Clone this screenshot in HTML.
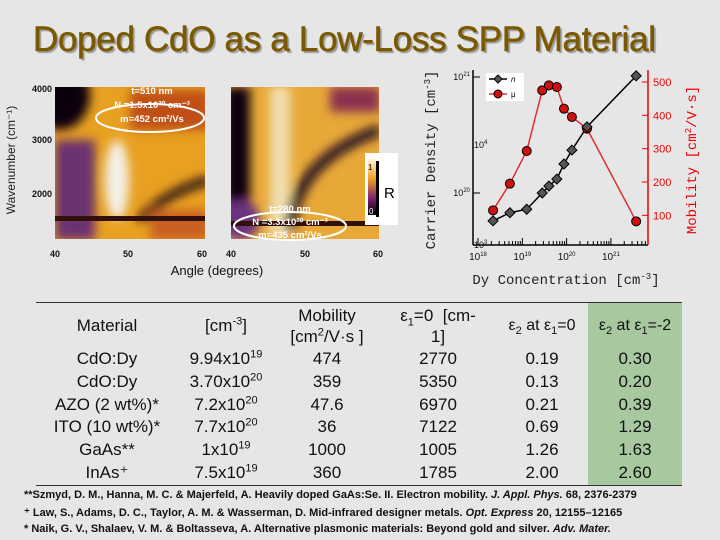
<!DOCTYPE html>
<html><head><meta charset="utf-8"><style>
body{margin:0;width:720px;height:540px;background:#e6e6e6;position:relative;overflow:hidden;font-family:"Liberation Sans",sans-serif}
.a{position:absolute}
.t td{padding:0;text-align:center;font-size:17px;color:#111;height:22.8px;line-height:22.8px;white-space:nowrap}
.t sup,.t sub{line-height:0;font-size:11px}
.fn{font-size:11px;font-weight:bold;white-space:nowrap;color:#111}
</style></head><body>
<div class="a" style="left:33px;top:20px;font-size:35px;color:#7a5900;text-shadow:2px 2px 1px #9a9a9a;letter-spacing:-0.3px;white-space:nowrap;-webkit-text-stroke:0.6px #7a5900">Doped CdO as a Low-Loss SPP Material</div>

<svg class="a" style="left:0;top:60px" width="410" height="230">
<defs>
<filter id="bl"><feGaussianBlur stdDeviation="5"/></filter>
<clipPath id="c1"><rect x="55" y="27" width="150" height="152"/></clipPath>
<clipPath id="c2"><rect x="231" y="27" width="148" height="152"/></clipPath>
</defs>
<g clip-path="url(#c1)">
<rect x="55" y="27" width="150" height="152" fill="#e8a020"/>
<g filter="url(#bl)">
<rect x="55" y="80" width="40" height="100" fill="#6a3070"/>
<ellipse cx="60" cy="35" rx="30" ry="35" fill="#100010"/>
<rect x="130" y="30" width="80" height="40" fill="#c05018"/>
<ellipse cx="117" cy="120" rx="12" ry="40" fill="#f4f0e8"/>
<path d="M140 160 Q170 130 210 120" stroke="#200818" stroke-width="9" fill="none"/>
<rect x="150" y="150" width="60" height="30" fill="#c86020"/>
</g>
<rect x="55" y="156" width="150" height="5" fill="#301008"/>
</g>
<g clip-path="url(#c2)">
<rect x="231" y="27" width="148" height="152" fill="#e8a838"/>
<g filter="url(#bl)">
<rect x="225" y="27" width="25" height="150" fill="#0a0008"/>
<rect x="270" y="27" width="20" height="150" fill="#f0e0b0"/>
<path d="M290 170 Q295 100 380 70" stroke="#200820" stroke-width="11" fill="none"/>
<rect x="330" y="27" width="50" height="25" fill="#8a3050"/>
<ellipse cx="240" cy="160" rx="20" ry="20" fill="#6a3080"/>
</g>
<rect x="231" y="161" width="148" height="5" fill="#301008"/>
</g>
<rect x="365" y="93" width="33" height="72" fill="#fff"/>
<defs><linearGradient id="cb" x1="0" y1="0" x2="0" y2="1"><stop offset="0" stop-color="#fff8e0"/><stop offset=".35" stop-color="#f0a020"/><stop offset=".7" stop-color="#802070"/><stop offset="1" stop-color="#000"/></linearGradient></defs>
<rect x="368" y="99" width="8" height="56" fill="url(#cb)"/>
<rect x="376" y="101" width="3" height="56" fill="#000"/>
<text x="368" y="110" font-size="8" fill="#000">1</text><text x="369" y="154" font-size="8" fill="#fff">0</text>
<text x="384" y="138" font-size="15" fill="#000">R</text>
<g font-size="9" font-weight="bold" fill="#111" text-anchor="end">
<text x="52" y="32">4000</text><text x="52" y="83">3000</text><text x="52" y="137">2000</text></g>
<text transform="translate(15 100) rotate(-90)" text-anchor="middle" font-size="12" fill="#222">Wavenumber (cm⁻¹)</text>
<g font-size="9" font-weight="bold" fill="#111" text-anchor="middle">
<text x="55" y="197">40</text><text x="128" y="197">50</text><text x="202" y="197">60</text>
<text x="231" y="197">40</text><text x="305" y="197">50</text><text x="378" y="197">60</text></g>
<text x="217" y="215" text-anchor="middle" font-size="13" fill="#111">Angle (degrees)</text>
<g fill="#fff" font-size="9.5" font-weight="bold" text-anchor="middle">
<text x="152" y="34">t=510 nm</text><text x="152" y="48">N =1.5x10²⁰ cm⁻³</text><text x="152" y="62">m=452 cm²/Vs</text>
<ellipse cx="150" cy="58" rx="54" ry="14" fill="none" stroke="#fff" stroke-width="2"/>
<text x="290" y="152">t=280 nm</text><text x="290" y="165">N =3.3x10²⁰ cm⁻³</text><text x="290" y="178">m=435 cm²/Vs</text>
<ellipse cx="290" cy="166" rx="56" ry="14" fill="none" stroke="#fff" stroke-width="2"/>
</g>
</svg>

<svg class="a" id="ch" style="left:410px;top:60px" width="310" height="240"></svg>

<div class="a" style="left:36px;top:302px;width:646px;border-top:1px solid #333"></div>
<div class="a" style="left:588px;top:303px;width:94px;height:182px;background:#a8c8a0"></div>
<div class="a" style="left:36px;top:485px;width:646px;border-top:1px solid #333"></div>
<table class="a t" style="left:36px;top:304px;border-collapse:collapse;width:646px;table-layout:fixed">
<colgroup><col style="width:142px"><col style="width:96px"><col style="width:106px"><col style="width:116px"><col style="width:92px"><col style="width:94px"></colgroup>
<tr><td style="height:44px;line-height:20px">Material</td><td>[cm<sup>-3</sup>]</td><td style="line-height:21px">Mobility<br>[cm<sup>2</sup>/V·s ]</td><td style="line-height:21px">ε<sub>1</sub>=0 &nbsp;[cm-<br>1]</td><td style="font-size:16px">ε<sub>2</sub> at ε<sub>1</sub>=0</td><td style="font-size:16px">ε<sub>2</sub> at ε<sub>1</sub>=-2</td></tr>
<tr><td>CdO:Dy</td><td>9.94x10<sup>19</sup></td><td>474</td><td>2770</td><td>0.19</td><td>0.30</td></tr>
<tr><td>CdO:Dy</td><td>3.70x10<sup>20</sup></td><td>359</td><td>5350</td><td>0.13</td><td>0.20</td></tr>
<tr><td>AZO (2 wt%)*</td><td>7.2x10<sup>20</sup></td><td>47.6</td><td>6970</td><td>0.21</td><td>0.39</td></tr>
<tr><td>ITO (10 wt%)*</td><td>7.7x10<sup>20</sup></td><td>36</td><td>7122</td><td>0.69</td><td>1.29</td></tr>
<tr><td>GaAs**</td><td>1x10<sup>19</sup></td><td>1000</td><td>1005</td><td>1.26</td><td>1.63</td></tr>
<tr><td>InAs⁺</td><td>7.5x10<sup>19</sup></td><td>360</td><td>1785</td><td>2.00</td><td>2.60</td></tr>
</table>
<div class="a fn" style="left:24px;top:489px">**Szmyd, D. M., Hanna, M. C. &amp; Majerfeld, A. Heavily doped GaAs:Se. II. Electron mobility. <i>J. Appl. Phys.</i> 68, 2376-2379</div>
<div class="a fn" style="left:24px;top:506px">⁺ Law, S., Adams, D. C., Taylor, A. M. &amp; Wasserman, D. Mid-infrared designer metals. <i>Opt. Express</i> 20, 12155–12165</div>
<div class="a fn" style="left:24px;top:523px">* Naik, G. V., Shalaev, V. M. &amp; Boltasseva, A. Alternative plasmonic materials: Beyond gold and silver. <i>Adv. Mater.</i></div>

<script>
const concLog=[18.34,18.72,19.1,19.45,19.6,19.78,19.94,20.12,20.46,21.57];
const nLog=[19.76,19.83,19.86,20.0,20.06,20.12,20.25,20.37,20.57,21.01];
const mobility=[115,195,293,475,490,485,420,395,360,82];
const xTicks=[18,19,20,21];
const mobTicks=[100,200,300,400,500];
const NS="http://www.w3.org/2000/svg";
const svg=document.getElementById('ch');
const X=v=>68+(v-18)*44.3;
const Y=v=>17+(21-v)*116;
const Ym=v=>22+(500-v)*0.3333;
function mk(t,a,p){const e=document.createElementNS(NS,t);for(const k in a)e.setAttribute(k,a[k]);(p||svg).appendChild(e);return e;}
const ax=mk('g',{});


mk('line',{x1:63,y1:185,x2:238,y2:185,stroke:'#000','stroke-width':1.5},ax);
mk('line',{x1:63,y1:10,x2:63,y2:185,stroke:'#000','stroke-width':1.5},ax);
mk('line',{x1:238,y1:10,x2:238,y2:185,stroke:'#e00','stroke-width':1.5},ax);
xTicks.forEach(d=>{for(let m=1;m<10;m++){const x=X(d+Math.log10(m));if(x<63||x>238)continue;mk('line',{x1:x,y1:185,x2:x,y2:m==1?178:181,stroke:'#000'},ax);}
 const t=mk('text',{x:X(d),y:200,'font-size':10,'text-anchor':'middle',fill:'#111'},ax);t.innerHTML='10<tspan font-size="6" dy="-4">'+d+'</tspan>';});
[20,21].forEach(d=>{mk('line',{x1:63,y1:Y(d),x2:70,y2:Y(d),stroke:'#000'},ax);const t=mk('text',{x:60,y:Y(d)+3,'font-size':9,'text-anchor':'end',fill:'#111'},ax);t.innerHTML='10<tspan font-size="6" dy="-4">'+d+'</tspan>';});
[[3,188],[4,88]].forEach(p=>{const t=mk('text',{x:64,y:p[1],'font-size':9,fill:'#111'},ax);t.innerHTML='10<tspan font-size="6" dy="-4">'+p[0]+'</tspan>';});
mobTicks.forEach(v=>{mk('line',{x1:238,y1:Ym(v),x2:232,y2:Ym(v),stroke:'#e00'},ax);mk('text',{x:243,y:Ym(v)+4,'font-size':11,fill:'#e00'},ax).textContent=v;});
const yt=mk('text',{transform:'translate(25 100) rotate(-90)','text-anchor':'middle','font-size':14,fill:'#222','font-family':'Liberation Mono'},ax);yt.innerHTML='Carrier Density [cm<tspan font-size="9" dy="-5">-3</tspan><tspan dy="5">]</tspan>';
const yr=mk('text',{transform:'translate(286 100) rotate(-90)','text-anchor':'middle','font-size':14,fill:'#e00','font-family':'Liberation Mono'},ax);yr.innerHTML='Mobility [cm<tspan font-size="9" dy="-5">2</tspan><tspan dy="5">/V·s]</tspan>';
const xt=mk('text',{x:156,y:224,'text-anchor':'middle','font-size':14,fill:'#222','font-family':'Liberation Mono'},ax);xt.innerHTML='Dy Concentration [cm<tspan font-size="9" dy="-5">-3</tspan><tspan dy="5">]</tspan>';
const ln=mk('polyline',{points:concLog.map((c,i)=>X(c)+','+Ym(mobility[i])).join(' '),fill:'none',stroke:'#e03030','stroke-width':1.5});


const ln2=mk('polyline',{points:concLog.map((c,i)=>X(c)+','+Y(nLog[i])).join(' '),fill:'none',stroke:'#000','stroke-width':1.5});


concLog.forEach((c,i)=>{const x=X(c),y=Ym(mobility[i]);
 const p=mk('circle',{cx:x,cy:y,r:4.5,fill:'#d01010',stroke:'#000','stroke-width':1});
 
 
 const y2=Y(nLog[i]);
 const q=mk('polygon',{points:`${x},${y2-5} ${x+5},${y2} ${x},${y2+5} ${x-5},${y2}`,fill:'#555',stroke:'#000'});
 
 });
const lg=mk('g',{});


mk('rect',{x:76,y:13,width:38,height:28,fill:'#fff'},lg);
mk('line',{x1:79,y1:19,x2:97,y2:19,stroke:'#000','stroke-width':1.5},lg);
mk('polygon',{points:'88,15 92,19 88,23 84,19',fill:'#555',stroke:'#000'},lg);
mk('text',{x:101,y:22,'font-size':8,'font-style':'italic'},lg).textContent='n';
mk('line',{x1:79,y1:34,x2:97,y2:34,stroke:'#e03030','stroke-width':1.5},lg);
mk('circle',{cx:88,cy:34,r:4,fill:'#d01010',stroke:'#000'},lg);
mk('text',{x:101,y:37,'font-size':8},lg).textContent='μ';
</script>
</body></html>
